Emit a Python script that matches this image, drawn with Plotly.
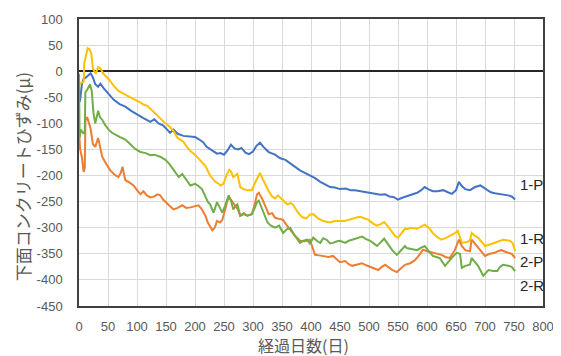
import plotly.graph_objects as go

# ---------------- data ----------------
days_1P = [0, 2, 5, 8, 12, 16, 20, 24, 28, 33, 37, 42, 50, 60, 70, 80, 90, 100, 111, 123, 130, 137, 145,
           152, 157, 163, 170, 180, 192, 200, 206, 214, 220, 230, 238, 244, 250, 256, 262, 268, 275, 280,
           287, 293, 300, 306, 312, 318, 327, 338, 347, 356, 364, 372, 381, 390, 398, 407, 416, 425, 433,
           441, 450, 460, 468, 476, 485, 495, 505, 512, 520, 528, 535, 542, 550, 556, 562, 570, 576, 583,
           590, 596, 602, 610, 618, 628, 636, 643, 650, 655, 660, 666, 674, 683, 692, 700, 710, 717, 723,
           731, 740, 746, 752]
vals_1P = [-60, -55, -25, -15, -12, -8, -4, -12, -25, -30, -24, -32, -42, -55, -63, -68, -76, -83, -90, -97,
           -92, -100, -104, -112, -118, -112, -120, -124, -126, -126, -130, -136, -145, -152, -158, -157,
           -160, -152, -141, -148, -150, -147, -156, -159, -154, -143, -137, -145, -155, -160, -167, -170,
           -177, -183, -190, -195, -200, -205, -212, -218, -222, -223, -226, -225, -228, -228, -230, -232,
           -233, -236, -237, -236, -240, -241, -246, -243, -241, -238, -235, -233, -228, -222, -226, -230,
           -230, -228, -232, -235, -228, -212, -220, -226, -228, -222, -219, -225, -232, -234, -235, -236,
           -238, -240, -246]

days_1R = [0, 4, 8, 9, 12, 15, 18, 21, 24, 29, 33, 37, 42, 51, 60, 68, 75, 80, 90, 97, 106, 111, 117, 123,
           130, 135, 142, 149, 156, 163, 170, 175, 180, 186, 192, 200, 206, 212, 218, 226, 230, 235, 240,
           244, 249, 254, 259, 262, 266, 270, 273, 278, 284, 290, 298, 303, 309, 312, 316, 321, 327, 333,
           338, 343, 350, 359, 365, 369, 377, 385, 392, 398, 404, 412, 421, 428, 433, 441, 450, 458, 465,
           473, 480, 485, 492, 499, 507, 514, 520, 526, 533, 540, 545, 550, 556, 562, 565, 572, 583, 590,
           596, 603, 610, 618, 625, 632, 639, 646, 653, 657, 660, 667, 674, 677, 682, 688, 694, 700, 708,
           717, 724, 731, 737, 743, 748, 752]
vals_1R = [-25, -22, -20, 15, 30, 44, 42, 35, 5, -5, 8, 5, -5, -15, -28, -38, -42, -45, -50, -54, -60, -64,
           -66, -72, -80, -86, -93, -100, -106, -115, -128, -132, -135, -145, -153, -160, -168, -175, -182,
           -200, -205, -212, -215, -219, -216, -200, -189, -192, -203, -200, -197, -222, -226, -228, -228,
           -215, -200, -195, -205, -216, -230, -240, -244, -238, -245, -255, -253, -256, -270, -280, -282,
           -275, -274, -282, -287, -289, -290, -287, -287, -287, -285, -282, -280, -279, -282, -285, -292,
           -296, -293, -289, -298, -310, -316, -319, -310, -302, -303, -300, -302, -298, -294, -300, -310,
           -318, -323, -320, -316, -312, -306, -320, -329, -328, -325, -310, -315, -319, -328, -335, -332,
           -329, -326, -323, -324, -325, -330, -345]

days_2P = [0, 2, 5, 8, 10, 11, 14, 17, 20, 24, 28, 33, 36, 40, 47, 54, 61, 68, 72, 75, 78, 80, 88, 94,
           100, 106, 111, 117, 123, 130, 135, 140, 145, 149, 156, 163, 170, 178, 185, 192, 200, 206, 212,
           218, 222, 226, 230, 234, 238, 243, 247, 252, 256, 259, 264, 269, 274, 278, 284, 290, 298, 303,
           307, 310, 316, 321, 327, 333, 338, 345, 352, 358, 364, 372, 381, 390, 398, 402, 407, 414, 421,
           430, 438, 445, 450, 459, 465, 471, 480, 488, 495, 502, 510, 516, 522, 528, 534, 540, 548, 555,
           562, 571, 578, 585, 593, 600, 610, 618, 625, 632, 639, 644, 648, 655, 660, 666, 674, 677, 682,
           688, 694, 700, 708, 717, 722, 728, 735, 740, 746, 752]
vals_2P = [-115, -150, -165, -193, -185, -95, -88, -100, -110, -140, -145, -128, -145, -164, -178, -190,
           -198, -203, -195, -183, -200, -209, -214, -219, -228, -236, -230, -238, -242, -240, -236, -238,
           -246, -251, -258, -265, -262, -257, -262, -261, -259, -257, -265, -277, -290, -298, -305, -300,
           -287, -290, -285, -265, -248, -242, -250, -257, -265, -277, -272, -277, -274, -255, -236, -233,
           -245, -258, -274, -272, -281, -283, -285, -295, -304, -315, -325, -326, -323, -335, -352, -353,
           -354, -356, -354, -362, -366, -364, -370, -373, -370, -368, -372, -375, -378, -381, -375, -371,
           -376, -381, -385, -377, -371, -368, -363, -355, -342, -345, -348, -350, -352, -356, -358, -350,
           -343, -323, -335, -343, -345, -323, -330, -339, -346, -354, -350, -348, -345, -343, -346, -348,
           -350, -358]

days_2R = [0, 1, 3, 6, 8, 10, 11, 14, 17, 19, 22, 25, 28, 31, 33, 36, 40, 45, 51, 57, 63, 70, 80, 88, 97,
           106, 115, 123, 130, 140, 149, 156, 163, 168, 172, 178, 185, 192, 200, 206, 212, 218, 222, 226,
           232, 238, 243, 247, 252, 258, 262, 266, 270, 273, 278, 284, 290, 298, 303, 307, 310, 316, 321,
           325, 331, 338, 345, 352, 358, 364, 372, 381, 387, 393, 398, 404, 410, 416, 421, 427, 433, 438,
           445, 450, 459, 465, 471, 480, 488, 495, 502, 508, 514, 520, 526, 533, 540, 548, 555, 562, 565,
           572, 583, 590, 596, 603, 610, 616, 622, 631, 639, 645, 651, 657, 660, 666, 674, 677, 682, 688,
           697, 702, 706, 714, 721, 726, 731, 740, 746, 752]
vals_2R = [-5, -128, -112, -118, -120, -115, -40, -36, -30, -25, -38, -81, -100, -88, -76, -88, -93, -103,
           -112, -118, -122, -126, -131, -140, -149, -155, -157, -161, -160, -164, -170, -178, -190, -196,
           -203, -197, -208, -219, -216, -220, -226, -242, -250, -255, -271, -251, -262, -271, -258, -238,
           -248, -265, -258, -255, -277, -274, -277, -274, -262, -251, -248, -265, -278, -290, -296, -300,
           -296, -310, -303, -300, -315, -329, -325, -323, -330, -319, -325, -329, -320, -323, -330, -329,
           -326, -325, -329, -325, -323, -320, -317, -322, -325, -330, -335, -328, -321, -332, -343, -352,
           -343, -335, -339, -340, -343, -338, -335, -345, -354, -356, -358, -373, -362, -355, -348, -350,
           -377, -373, -371, -358, -365, -373, -392, -385, -381, -383, -383, -375, -371, -373, -375, -383]

series_names = ["1-P", "1-R", "2-P", "2-R"]
series_colors = ["#4472C4", "#FFC000", "#ED7D31", "#70AD47"]
label_values = [-217, -320, -364, -410]

x_ticks = list(range(0, 801, 50))
y_ticks = list(range(-450, 101, 50))

# ---------------- figure ----------------
fig = go.Figure()
all_days = [days_1P, days_1R, days_2P, days_2R]
all_vals = [vals_1P, vals_1R, vals_2P, vals_2R]
for name, d, v, c in zip(series_names, all_days, all_vals, series_colors):
    fig.add_trace(go.Scatter(x=d, y=v, mode="lines", name=name,
                             line=dict(color=c, width=2), showlegend=False,
                             hoverinfo="skip"))

for name, yv in zip(series_names, label_values):
    fig.add_annotation(x=757, y=yv, xref="x", yref="y", text=name, showarrow=False,
                       xanchor="left", yanchor="middle",
                       font=dict(family="Liberation Sans, Noto Sans CJK JP", size=15, color="#262626"))

fig.add_annotation(x=0.483, y=0, xref="paper", yref="paper", yshift=-39,
                   text="経過日数(日)", showarrow=False, xanchor="center", yanchor="middle",
                   font=dict(family="Noto Sans CJK JP", size=16, color="#595959"))
fig.add_annotation(x=0, y=0.449, xref="paper", yref="paper", xshift=-57,
                   text="下面コンクリートひずみ(μ)", showarrow=False, textangle=-90,
                   xanchor="center", yanchor="middle",
                   font=dict(family="Noto Sans CJK JP", size=17, color="#595959"))

axis_font = dict(family="Liberation Sans, Noto Sans CJK JP", size=13, color="#595959")
# page body has an 8px margin, so the figure is made 8px smaller and margins shifted
fig.update_layout(
    width=553, height=348,
    margin=dict(l=71, r=18, t=11, b=50, autoexpand=False),
    paper_bgcolor="white", plot_bgcolor="white",
    xaxis=dict(range=[0, 800], tickvals=x_ticks, ticktext=[str(t) for t in x_ticks],
               showgrid=True, gridcolor="#D9D9D9", gridwidth=1,
               showline=True, linecolor="#404040", linewidth=1.5, mirror=True,
               zeroline=False, ticks="", tickfont=axis_font, ticklabelstandoff=8),
    yaxis=dict(range=[-450, 100], tickvals=y_ticks, ticktext=[str(t) for t in y_ticks],
               showgrid=True, gridcolor="#D9D9D9", gridwidth=1,
               showline=True, linecolor="#404040", linewidth=1.5, mirror=True,
               zeroline=True, zerolinecolor="#262626", zerolinewidth=1.5,
               ticks="", tickfont=axis_font, ticklabelstandoff=12),
)

fig.write_html("out.html")
